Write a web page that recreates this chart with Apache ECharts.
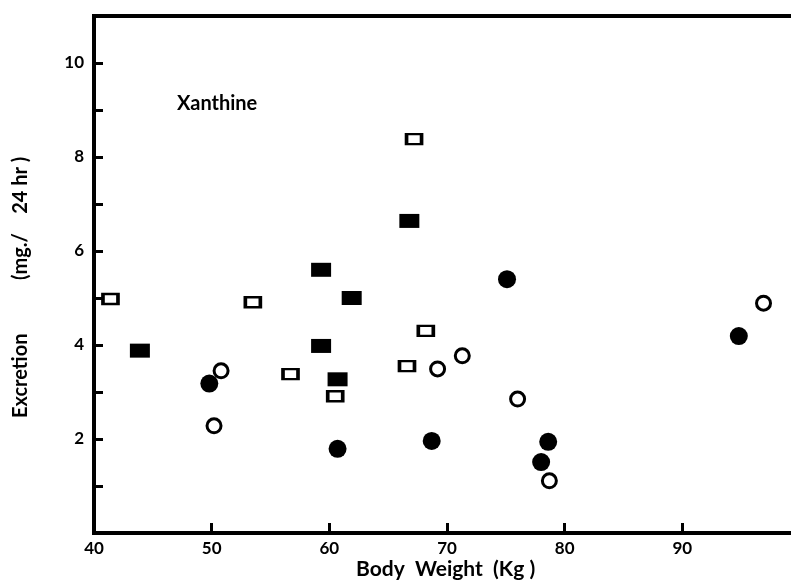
<!DOCTYPE html>
<html>
<head>
<meta charset="utf-8">
<script src="https://cdn.jsdelivr.net/npm/echarts@6/dist/echarts.min.js"></script>
<style>
  html, body { margin: 0; padding: 0; background: #fff; }
  #chart { width: 791px; height: 584px; }
</style>
</head>
<body>
<div id="chart"></div>
<script>
// body weight (kg) / excretion (mg per 24 hr)
var openRect = [[41.4, 4.98], [53.5, 4.91], [56.7, 3.38], [60.5, 2.91], [67.2, 8.38], [66.6, 3.55], [68.2, 4.3]];
var filledRect = [[43.9, 3.88], [59.3, 5.6], [61.9, 5.0], [59.3, 3.98], [60.7, 3.27], [66.8, 6.64]];
var filledCircle = [[49.8, 3.18], [60.7, 1.79], [68.7, 1.96], [75.1, 5.4], [78.6, 1.94], [78.0, 1.51], [94.8, 4.19]];
var openCircle = [[50.8, 3.45], [50.2, 2.28], [71.3, 3.77], [69.2, 3.49], [76.0, 2.85], [78.7, 1.11], [96.9, 4.89]];

var xLabels = [40, 50, 60, 70, 80, 90];
var yLabels = [2, 4, 6, 8, 10];

var font = 'Lato';
var chart = echarts.init(document.getElementById('chart'));

var option = {
  backgroundColor: '#fff',
  animation: false,
  // frame: top line is the grid border, the right side runs off the canvas
  grid: {
    left: 94, top: 16, right: -9, bottom: 51,
    outerBoundsMode: 'none', containLabel: false,
    show: true, borderColor: '#000', borderWidth: 4
  },
  xAxis: [{
    type: 'value', min: 40, max: 100, interval: 10,
    splitLine: { show: false },
    axisLine: { onZero: false, lineStyle: { color: '#000', width: 4 } },
    axisTick: { show: true, inside: true, length: 10, lineStyle: { color: '#000', width: 3 } },
    axisLabel: {
      color: '#000', fontFamily: font, fontSize: 17, fontWeight: 'bold', margin: 7,
      formatter: function (v) { return xLabels.indexOf(v) >= 0 ? String(v) : ''; }
    }
  }, {
    // top edge, same scale, nothing visible but the line
    type: 'value', min: 40, max: 100, interval: 10, position: 'top',
    splitLine: { show: false },
    axisLine: { show: true, onZero: false, lineStyle: { color: '#000', width: 4 } },
    axisTick: { show: true, length: 1, lineStyle: { color: 'rgba(0,0,0,0)' } },
    axisLabel: { show: true, color: 'rgba(0,0,0,0)', fontSize: 10 }
  }],
  yAxis: {
    type: 'value',
    min: 0,
    max: 11,
    interval: 1,
    splitLine: { show: false },
    axisLine: { onZero: false, lineStyle: { color: '#000', width: 4 } },
    axisTick: { show: true, inside: true, length: 9, lineStyle: { color: '#000', width: 3 } },
    axisLabel: {
      color: '#000', fontFamily: font, fontSize: 17, fontWeight: 'bold', margin: 10,
      formatter: function (v) { return yLabels.indexOf(v) >= 0 ? String(v) : ''; }
    }
  },
  graphic: [
    {
      type: 'text', left: 177, top: 94,
      style: { text: 'Xanthine', fill: '#000', font: 'bold 20px ' + font }
    },
    {
      type: 'text', left: 356, top: 559,
      style: { text: 'Body  Weight  (Kg )', fill: '#000', font: 'bold 21px ' + font }
    },
    {
      type: 'text', x: 11, y: 418, rotation: Math.PI / 2,
      style: { text: 'Excretion           (mg./    24 hr )', fill: '#000', font: 'bold 20px ' + font }
    }
  ],
  series: [
    {
      type: 'scatter', data: openRect, symbol: 'rect', symbolSize: [15, 10],
      itemStyle: { color: '#fff', borderColor: '#000', borderWidth: 3, opacity: 1 }
    },
    {
      type: 'scatter', data: filledRect, symbol: 'rect', symbolSize: [20, 14],
      itemStyle: { color: '#000', opacity: 1 }
    },
    {
      type: 'scatter', data: filledCircle, symbol: 'circle', symbolSize: 18,
      itemStyle: { color: '#000', opacity: 1 }
    },
    {
      type: 'scatter', data: openCircle, symbol: 'circle', symbolSize: 14,
      itemStyle: { color: '#fff', borderColor: '#000', borderWidth: 3, opacity: 1 }
    }
  ]
};

chart.setOption(option);
</script>
</body>
</html>
